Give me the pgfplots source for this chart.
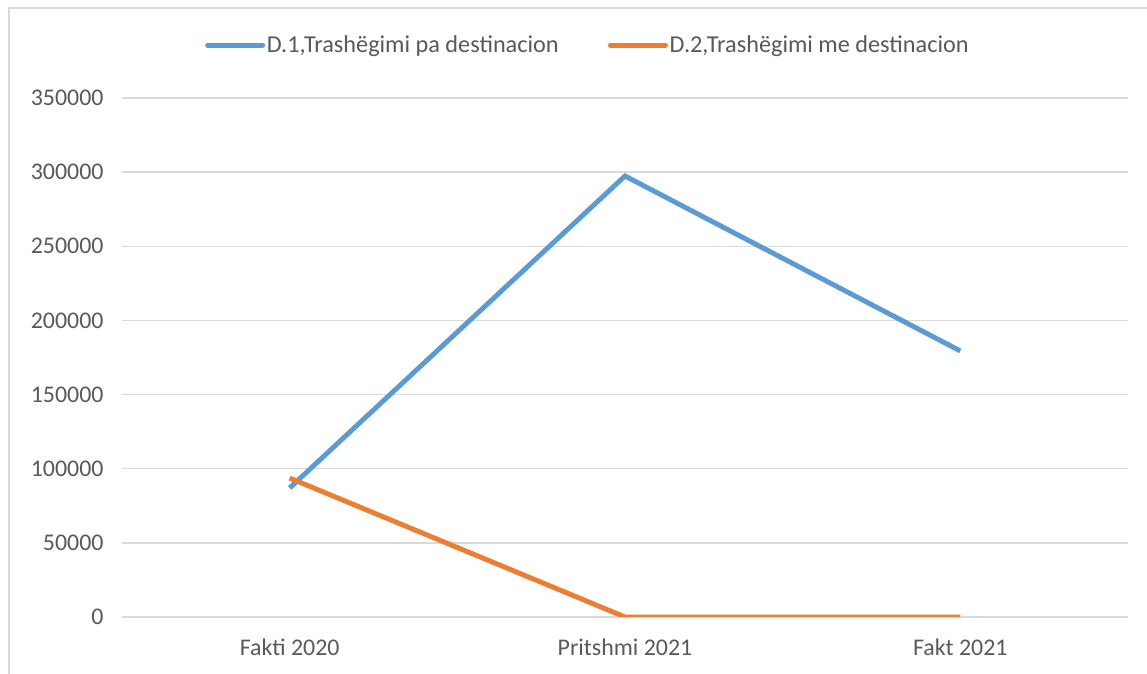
\documentclass[border=0pt]{standalone}
\usepackage{fontspec}
\setmainfont{Carlito}
\usepackage{pgfplots}
\pgfplotsset{compat=1.18}
\definecolor{xlblue}{HTML}{5B9BD5}
\definecolor{xlorange}{HTML}{ED7D31}
\definecolor{xlgrid}{HTML}{D9D9D9}
\definecolor{xltext}{HTML}{595959}

\begin{document}
\begin{tikzpicture}
\useasboundingbox (0,0) rectangle (22.94,13.48);
\draw[xlgrid, line width=0.8pt] (0.18,0) -- (0.18,13.32) -- (22.94,13.32);
\begin{axis}[
    at={(2.44cm,1.14cm)},
    anchor=south west,
    scale only axis,
    width=20.12cm,
    height=10.38cm,
    xmin=-0.5, xmax=2.5,
    ymin=0, ymax=350000,
    xtick={0,1,2},
    xticklabels={Fakti 2020,Pritshmi 2021,Fakt 2021},
    ytick={0,50000,100000,150000,200000,250000,300000,350000},
    yticklabels={0,50000,100000,150000,200000,250000,300000,350000},
    scaled y ticks=false,
    ymajorgrids=true,
    grid style={xlgrid, line width=0.8pt},
    axis line style={draw=none},
    major tick length=0pt,
    tick label style={font=\fontsize{13.6}{16}\selectfont, text=xltext},
    yticklabel style={xshift=-7pt},
    xticklabel style={yshift=-9pt},
    legend columns=2,
    legend style={
        at={(axis description cs:0.463,1.102)},
        anchor=center,
        draw=none,
        font=\fontsize{13.8}{16}\selectfont,
        text=xltext,
        nodes={inner xsep=1pt},
        /tikz/every even column/.append style={column sep=0.95cm},
        inner sep=0pt,
    },
    legend image code/.code={
        \draw[#1, line cap=round] (0cm,0cm) -- (1.1cm,0cm);
    },
]
\addplot[xlblue, line width=2.8pt] coordinates {(0,87000) (1,297400) (2,179400)};
\addlegendentry{D.1,Trashëgimi pa destinacion}
\addplot[xlorange, line width=2.8pt] coordinates {(0,93700) (1,0) (2,0)};
\addlegendentry{D.2,Trashëgimi me destinacion}
\end{axis}
\end{tikzpicture}
\end{document}
